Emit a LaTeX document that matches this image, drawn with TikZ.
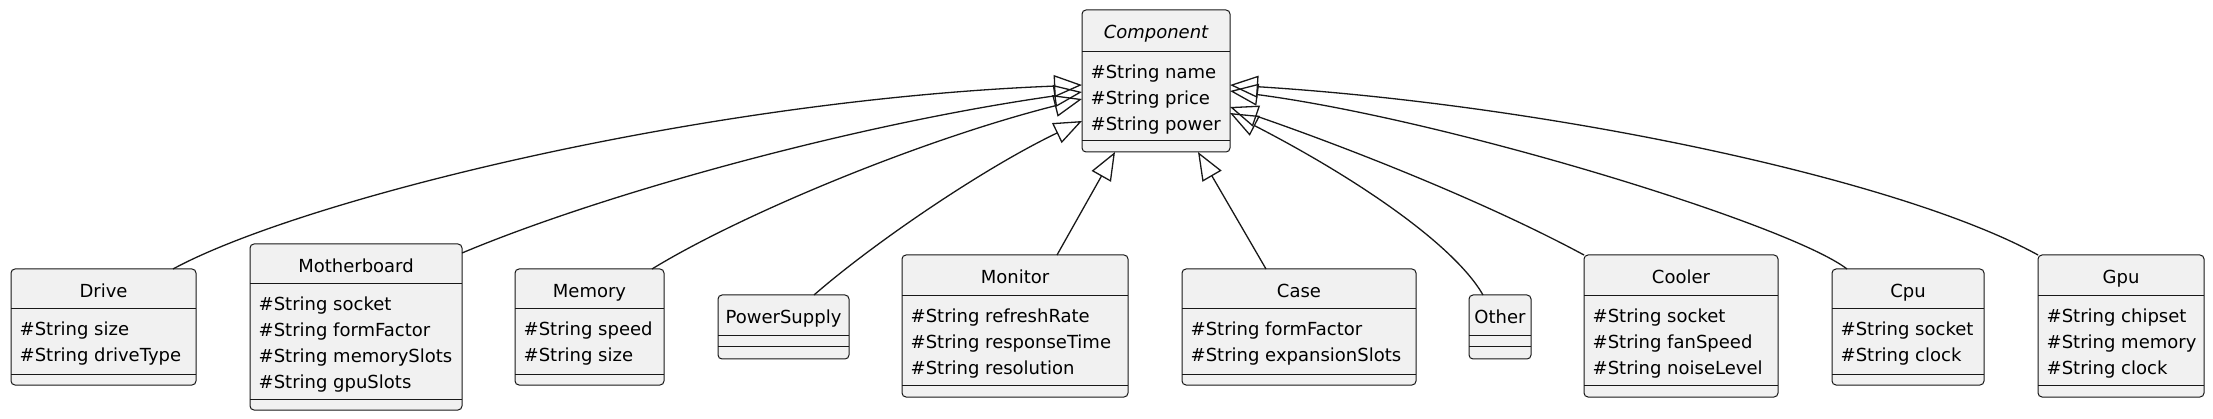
\documentclass[tikz,border=0pt]{standalone}
\usepackage{fontspec}
\setmainfont{DejaVu Sans}
\usetikzlibrary{arrows.meta}
\definecolor{boxfill}{HTML}{F1F1F1}
\definecolor{boxline}{HTML}{181818}
\tikzset{
  classbox/.style={draw=boxline, fill=boxfill, rounded corners=4pt, line width=1pt, inner sep=0pt, outer sep=0pt},
  sepline/.style={draw=boxline, line width=1pt},
  txt/.style={inner sep=0pt, font=\fontsize{18}{21}\selectfont, text=black},
  ext/.style={draw=boxline, line width=1.3pt, -{Triangle[open, length=28pt, width=22pt]}},
}
\newcommand\umlclass[9]{%
  \pgfmathsetmacro\cx{(#2+#3)/2}\pgfmathsetmacro\cy{(#4+#7)/2}%
  \pgfmathsetmacro\cw{#3-#2}\pgfmathsetmacro\ch{#7-#4}%
  \node[classbox, minimum width=\cw pt, minimum height=\ch pt] (#1) at (\cx,\cy) {};
  \draw[sepline] (#2,#5) -- (#3,#5);
  \draw[sepline] (#2,#6) -- (#3,#6);
  \node[txt, anchor=base] (#1-title) at (\cx,#4+28.5) {#8};
  \def\attrlist{#9}%
  \ifx\attrlist\empty\else
    \foreach \a [count=\i] in {#9} {\node[txt, anchor=base west] (#1-a\i) at (#2+8.5, #5+26.5+26*\i-26) {\a};}
  \fi
}
\begin{document}
\begin{tikzpicture}[x=1pt, y=-1pt]
\useasboundingbox (0,0) rectangle (2213,419);
\umlclass{comp}{1082}{1230}{10}{52}{141}{152}{\itshape Component}{\#String name,\#String price,\#String power}
\umlclass{drive}{11}{196}{269}{309}{374}{385}{Drive}{\#String size,\#String driveType}
\umlclass{mb}{250}{462}{244}{284}{399}{410}{Motherboard}{\#String socket,\#String formFactor,\#String memorySlots,\#String gpuSlots}
\umlclass{mem}{515}{664}{269}{309}{374}{385}{Memory}{\#String speed,\#String size}
\umlclass{psu}{718}{849}{295}{336}{347}{359}{PowerSupply}{}
\umlclass{mon}{902}{1128}{255}{296}{385}{397}{Monitor}{\#String refreshRate,\#String responseTime,\#String resolution}
\umlclass{case}{1182}{1416}{269}{309}{374}{385}{Case}{\#String formFactor,\#String expansionSlots}
\umlclass{other}{1469}{1531}{295}{336}{347}{359}{Other}{}
\umlclass{cooler}{1584}{1778}{255}{296}{385}{397}{Cooler}{\#String socket,\#String fanSpeed,\#String noiseLevel}
\umlclass{cpu}{1832}{1984}{269}{309}{374}{385}{Cpu}{\#String socket,\#String clock}
\umlclass{gpu}{2038}{2204}{255}{296}{385}{397}{Gpu}{\#String chipset,\#String memory,\#String clock}

\draw[ext] ([xshift=69.5pt]drive.north) .. controls +(127,-69) and +(-382,15) .. ([yshift=-4pt]comp.west);
\draw[ext] ([yshift=-9pt]mb.north east) .. controls +(138,-58) and +(-232,33) .. ([yshift=-11pt]comp.west);
\draw[ext] ([xshift=62.5pt]mem.north) .. controls +(88,-54) and +(-162,41) .. ([yshift=-18pt]comp.west);
\draw[ext] ([xshift=30.5pt]psu.north) .. controls +(56,-49) and +(-102,49) .. ([yshift=-40pt]comp.west);
\draw[ext] ([xshift=42pt]mon.north) -- ([xshift=-41pt]comp.south);
\draw[ext] ([xshift=-33pt]case.north) -- ([xshift=42pt]comp.south);
\draw[ext] ([xshift=-17pt]other.north) .. controls +(-28,-49) and +(130,67) .. ([yshift=-32pt]comp.east);
\draw[ext] (cooler.north west) .. controls +(-104,-56) and +(110,38) .. ([yshift=-26pt]comp.east);
\draw[ext] ([xshift=-61pt]cpu.north) .. controls +(-57,-44) and +(220,29) .. ([yshift=-10pt]comp.east);
\draw[ext] (gpu.north west) .. controls +(-138,-76) and +(320,20) .. ([yshift=-4pt]comp.east);
\end{tikzpicture}
\end{document}
